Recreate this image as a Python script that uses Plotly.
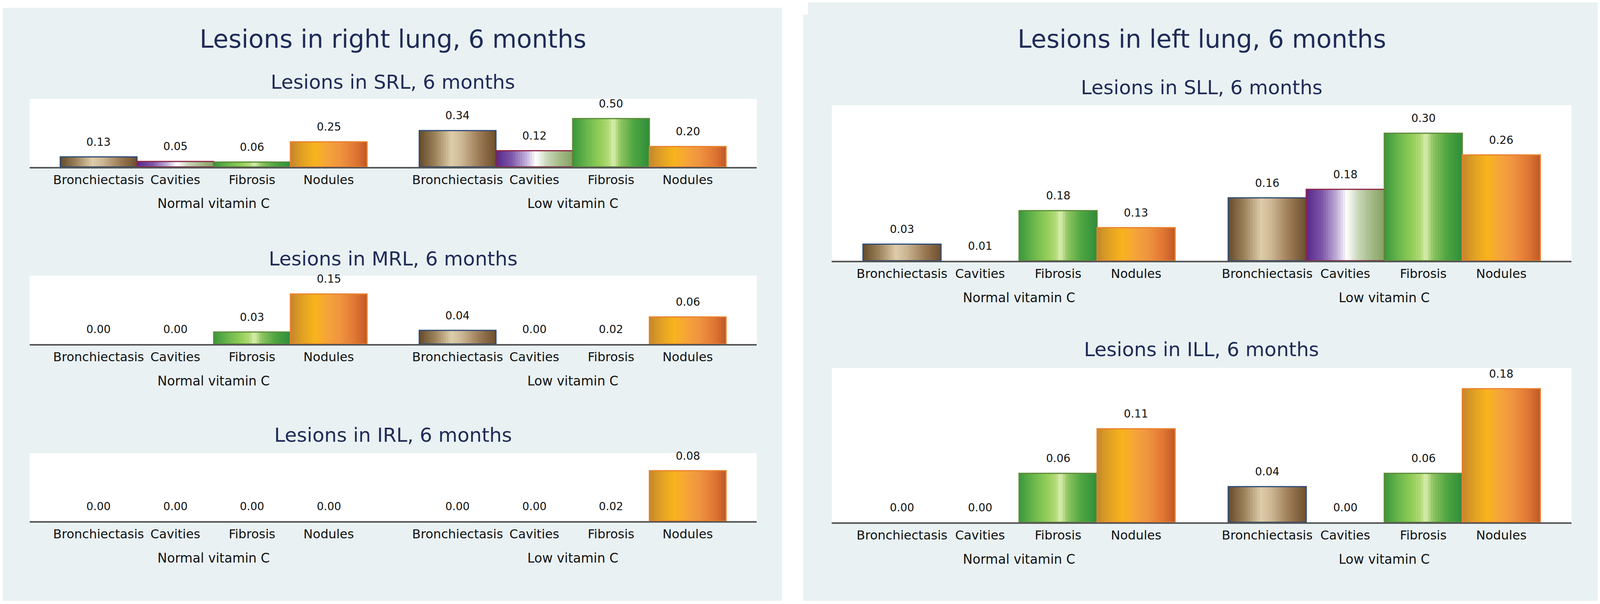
import plotly.graph_objects as go

# categories
lesions = ["Bronchiectasis", "Cavities", "Fibrosis", "Nodules"]
groups = ["Normal vitamin C", "Low vitamin C"]

srl_bar_normal = [0.104, 0.057, 0.051, 0.26]
srl_bar_low = [0.376, 0.168, 0.50, 0.211]
srl_lab_normal = [0.13, 0.05, 0.06, 0.25]
srl_lab_low = [0.34, 0.12, 0.50, 0.20]

mrl_bar_normal = [0.0, 0.0, 0.036, 0.15]
mrl_bar_low = [0.041, 0.0, 0.0, 0.081]
mrl_lab_normal = [0.00, 0.00, 0.03, 0.15]
mrl_lab_low = [0.04, 0.00, 0.02, 0.06]

irl_bar_normal = [0.0, 0.0, 0.0, 0.0]
irl_bar_low = [0.0, 0.0, 0.0, 0.08]
irl_lab_normal = [0.00, 0.00, 0.00, 0.00]
irl_lab_low = [0.00, 0.00, 0.02, 0.08]

sll_bar_normal = [0.039, 0.0, 0.118, 0.078]
sll_bar_low = [0.148, 0.168, 0.30, 0.249]
sll_lab_normal = [0.03, 0.01, 0.18, 0.13]
sll_lab_low = [0.16, 0.18, 0.30, 0.26]

ill_bar_normal = [0.0, 0.0, 0.066, 0.126]
ill_bar_low = [0.048, 0.0, 0.066, 0.18]
ill_lab_normal = [0.00, 0.00, 0.06, 0.11]
ill_lab_low = [0.04, 0.00, 0.06, 0.18]

main_titles = ["Lesions in right lung, 6 months", "Lesions in left lung, 6 months"]

W, H = 4330, 1545
FONT = "DejaVu Sans"
NAVY = "#1f2b57"
PANEL = "#e9f1f3"

# cylinder-like shading for each lesion type (position across bar, colour)
shades = {
    "Bronchiectasis": [(0, "#654b2c"), (0.2, "#9a8058"), (0.42, "#ddcca9"), (0.55, "#cdb894"),
                       (0.78, "#9c7b56"), (1, "#6e4f2d")],
    "Cavities": [(0, "#57288a"), (0.2, "#7c55a8"), (0.4, "#c3b3da"), (0.52, "#ffffff"),
                 (0.66, "#cbd8bb"), (0.85, "#a0b882"), (1, "#86a266")],
    "Fibrosis": [(0, "#3b963b"), (0.18, "#68b64c"), (0.35, "#92cd58"), (0.47, "#b2da78"),
                 (0.53, "#dcefb0"), (0.62, "#8fc562"), (0.8, "#4ea541"), (1, "#2f8e3a")],
    "Nodules": [(0, "#c4862c"), (0.15, "#e0a024"), (0.32, "#f8b41c"), (0.48, "#f5a43a"),
                (0.65, "#f09440"), (0.85, "#df7634"), (1, "#bf5727")],
}
outlines = {"Bronchiectasis": "#2d4a78", "Cavities": "#8e2445",
            "Fibrosis": "#5d8a3a", "Nodules": "#e9812c"}


def hex_rgb(h):
    h = h.lstrip("#")
    return [int(h[i:i + 2], 16) for i in (0, 2, 4)]


def shade(name, t):
    stops = shades[name]
    for (t0, c0), (t1, c1) in zip(stops[:-1], stops[1:]):
        if t0 <= t <= t1:
            f = (t - t0) / (t1 - t0)
            a, b = hex_rgb(c0), hex_rgb(c1)
            return "rgb({},{},{})".format(*[round(a[i] + (b[i] - a[i]) * f) for i in range(3)])
    return stops[-1][1]


def px_x(v):
    return v / W


def px_y(v):
    return 1 - v / H


GAP = 0.68  # gap between the two groups, in bar widths
N_STRIPS = 32

# subplot layout: (title, bars normal, bars low, labels normal, labels low,
#                  x pixel extent, y pixel extent, title y pixel, y range top)
subplots = [
    ("Lesions in SRL, 6 months", srl_bar_normal, srl_bar_low, srl_lab_normal, srl_lab_low,
     (80, 2048), (253, 427), 210, 0.703),
    ("Lesions in MRL, 6 months", mrl_bar_normal, mrl_bar_low, mrl_lab_normal, mrl_lab_low,
     (80, 2048), (705, 880), 662, 0.205),
    ("Lesions in IRL, 6 months", irl_bar_normal, irl_bar_low, irl_lab_normal, irl_lab_low,
     (80, 2048), (1159, 1333), 1113, 0.108),
    ("Lesions in SLL, 6 months", sll_bar_normal, sll_bar_low, sll_lab_normal, sll_lab_low,
     (2251, 4253), (269, 667), 224, 0.366),
    ("Lesions in ILL, 6 months", ill_bar_normal, ill_bar_low, ill_lab_normal, ill_lab_low,
     (2251, 4253), (941, 1336), 894, 0.208),
]

fig = go.Figure()
annotations = []
shapes = [
    dict(type="rect", xref="paper", yref="paper", x0=px_x(7), x1=px_x(2116),
         y0=px_y(1537), y1=px_y(20), fillcolor=PANEL, line_width=0, layer="below"),
    dict(type="rect", xref="paper", yref="paper", x0=px_x(2174), x1=px_x(4324),
         y0=px_y(1537), y1=px_y(37), fillcolor=PANEL, line_width=0, layer="below"),
    dict(type="rect", xref="paper", yref="paper", x0=px_x(2187), x1=px_x(4324),
         y0=px_y(40), y1=px_y(6), fillcolor=PANEL, line_width=0, layer="below"),
]

for n, (title, bn, bl, ln, ll, xr, yr, ty, ytop) in enumerate(subplots, start=1):
    sfx = "" if n == 1 else str(n)
    xname, yname = "x" + sfx, "y" + sfx
    pos = [g * (len(lesions) + GAP) + i for g in range(len(groups)) for i in range(len(lesions))]
    names = lesions * len(groups)
    heights = bn + bl
    labels = ln + ll

    for k in range(N_STRIPS):
        t = (k + 0.5) / N_STRIPS
        fig.add_trace(go.Bar(
            x=pos, y=heights, xaxis=xname, yaxis=yname,
            width=1.0 / N_STRIPS + (0.015 if k < N_STRIPS - 1 else 0),
            offset=-0.5 + k / N_STRIPS,
            marker=dict(color=[shade(nm, t) for nm in names], line_width=0),
            showlegend=False, hoverinfo="skip"))
    fig.add_trace(go.Bar(
        x=pos, y=heights, xaxis=xname, yaxis=yname, width=1.0,
        marker=dict(color="rgba(0,0,0,0)",
                    line=dict(color=[outlines[nm] for nm in names],
                              width=[3 if h > 0 else 0 for h in heights])),
        showlegend=False, hoverinfo="skip"))

    for p, h, lab in zip(pos, heights, labels):
        annotations.append(dict(x=p, y=h, xref=xname, yref=yname, text="{:.2f}".format(lab),
                                showarrow=False, xanchor="center", yanchor="middle", yshift=38,
                                font=dict(family=FONT, size=28, color="#111111")))
    for g, gname in enumerate(groups):
        centre = g * (len(lesions) + GAP) + (len(lesions) - 1) / 2
        annotations.append(dict(x=centre, y=0, xref=xname, yref=yname + " domain", text=gname,
                                showarrow=False, xanchor="center", yanchor="middle", yshift=-94,
                                font=dict(family=FONT, size=33, color="#111111")))
    annotations.append(dict(x=px_x((xr[0] + xr[1]) / 2), y=px_y(ty), xref="paper", yref="paper",
                            text=title, showarrow=False, xanchor="center", yanchor="middle",
                            font=dict(family=FONT, size=50, color=NAVY)))
    shapes.append(dict(type="rect", xref=xname + " domain", yref=yname + " domain",
                       x0=0, x1=1, y0=0, y1=1, fillcolor="white", line_width=0, layer="below"))

    fig.layout["xaxis" + sfx] = dict(
        domain=[px_x(xr[0]), px_x(xr[1])], anchor=yname,
        range=[-0.9, pos[-1] + 0.9], tickvals=pos, ticktext=names, tickangle=0,
        ticks="outside", ticklen=2, tickcolor="rgba(0,0,0,0)",
        tickfont=dict(family=FONT, size=32, color="#111111"),
        showgrid=False, zeroline=False, showline=True, linecolor="#555555", linewidth=4,
        fixedrange=True)
    fig.layout["yaxis" + sfx] = dict(
        domain=[px_y(yr[1]), px_y(yr[0])], anchor=xname, range=[0, ytop],
        showgrid=False, zeroline=False, showticklabels=False, showline=False, fixedrange=True)

for cx, text in zip([1064, 3252], main_titles):
    annotations.append(dict(x=px_x(cx), y=px_y(100), xref="paper", yref="paper", text=text,
                            showarrow=False, xanchor="center", yanchor="middle",
                            font=dict(family=FONT, size=64, color=NAVY)))

fig.update_layout(
    autosize=True, margin=dict(l=0, r=0, t=0, b=0),
    paper_bgcolor="white", plot_bgcolor="white",
    barmode="overlay", showlegend=False,
    annotations=annotations, shapes=shapes,
)

# let the figure fill the browser window exactly
fit_page = ("document.body.style.margin='0';document.body.style.overflow='hidden';"
            "Plotly.Plots.resize(document.getElementById('{plot_id}'));")
fig.write_html("out.html", default_width="100vw", default_height="100vh",
               config={"responsive": True, "displayModeBar": False}, post_script=fit_page)
